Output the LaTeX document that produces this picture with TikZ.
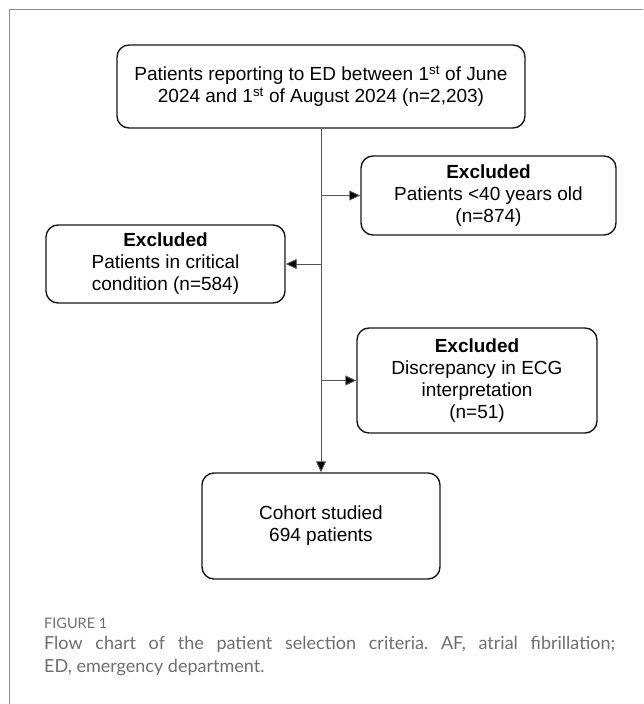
\documentclass[tikz,border=0pt]{standalone}
\usepackage{fontspec}
\setmainfont{Liberation Sans}
\newfontfamily\capfont{Lato}
\usetikzlibrary{arrows.meta}
\definecolor{framegray}{HTML}{8A8A8A}
\definecolor{capgray}{HTML}{6E6E6E}
\definecolor{linegray}{HTML}{555555}
\frenchspacing
\begin{document}
\begin{tikzpicture}[x=1pt,y=-1pt,
  box/.style={draw=black!90,line width=1.4pt,rounded corners=12pt,align=center,
    font=\fontsize{19}{22}\selectfont,inner sep=0pt},
  conn/.style={draw=linegray,line width=0.9pt,-{Triangle[length=11pt,width=10pt,fill=black]}},
]
\useasboundingbox (0,0) rectangle (643,704);
% frame
\draw[framegray,line width=1pt] (9,704) -- (9,9) -- (643,9);
% boxes
\node[box,minimum width=408pt,minimum height=83pt] (top) at (321,86.5)
  {Patients reporting to ED between 1\textsuperscript{st} of June\\2024 and 1\textsuperscript{st} of August 2024 (n=2,203)};
\node[box,minimum width=255pt,minimum height=79pt] (exA) at (488.5,195.5)
  {\textbf{Excluded}\\Patients <40 years old\\(n=874)};
\node[box,minimum width=239pt,minimum height=78pt] (exB) at (165.5,264)
  {\textbf{Excluded}\\Patients in critical\\condition (n=584)};
\node[box,minimum width=240pt,minimum height=105pt] (exC) at (477,380.5)
  {\textbf{Excluded}\\Discrepancy in ECG\\interpretation\\(n=51)};
\node[box,minimum width=238pt,minimum height=106pt] (coh) at (321,526)
  {Cohort studied\\694 patients};
% connectors
\draw[conn] (top.south) -- (coh.north);
\draw[conn] (top.south |- exA.west) -- (exA.west);
\draw[conn] (top.south |- exB.east) -- (exB.east);
\draw[conn] (top.south |- exC.west) -- (exC.west);
% caption
\node[anchor=west,inner sep=0pt,text=capgray,font=\capfont\fontsize{14.5}{16}\selectfont] (fig) at (44,623) {FIGURE 1};
\node[anchor=north west,inner sep=0pt,text=capgray,text width=571pt,align=justify,
  font=\capfont\fontsize{18}{23}\selectfont] (cap) at (44,636)
  {Flow chart of the patient selection criteria. AF, atrial fibrillation;\linebreak ED, emergency department.};
\end{tikzpicture}
\end{document}
